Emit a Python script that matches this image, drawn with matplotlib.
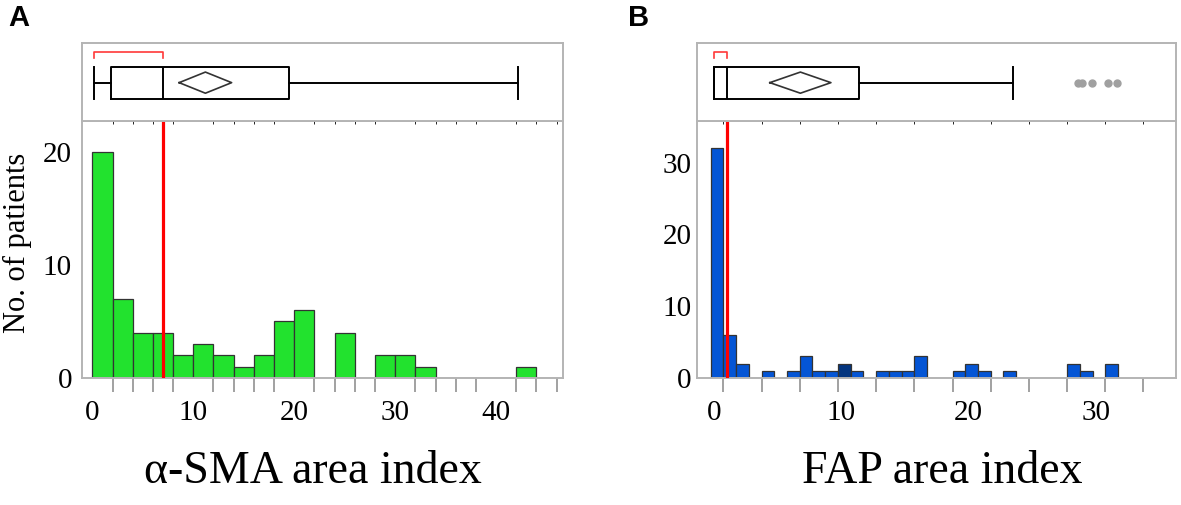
import matplotlib
matplotlib.use('Agg')
import matplotlib.pyplot as plt
import numpy as np

# Panel A: alpha-SMA area index histogram (bin width 2, starting at 0)
a_bin_start = 0
a_bin_width = 2
a_counts = [20, 7, 4, 4, 2, 3, 2, 1, 2, 5, 6, 0, 4, 0, 2, 2, 1, 0, 0, 0, 0, 1, 0]
a_box = {'whislo': 0.15, 'q1': 1.85, 'med': 7.0, 'q3': 19.5, 'whishi': 42.2, 'fliers': []}
a_mean = 11.2
a_mean_ci = (8.6, 13.8)
a_shortest_half = (0.15, 7.0)
a_xticklabels = [0, 10, 20, 30, 40]
a_yticklabels = [0, 10, 20]

# Panel B: FAP area index histogram (bin width 1)
b_bin_start = -0.25
b_bin_width = 1
b_counts = [32, 6, 2, 0, 1, 0, 1, 3, 1, 1, 2, 1, 0, 1, 1, 1, 3, 0, 0, 1, 2, 1, 0, 1,
            0, 0, 0, 0, 2, 1, 0, 2]
b_highlight_bin = 10
b_box = {'whislo': 0.0, 'q1': 0.0, 'med': 1.05, 'q3': 11.4, 'whishi': 23.5,
         'fliers': [28.6, 28.9, 29.7, 31.0, 31.7]}
b_mean = 6.8
b_mean_ci = (4.4, 9.2)
b_shortest_half = (0.0, 1.05)
b_xticklabels = [0, 10, 20, 30]
b_yticklabels = [0, 10, 20, 30]

GREEN = '#22e22e'
BLUE = '#0455d5'
DARK_BLUE = '#03357f'
FRAME = '#b4b4b4'
SERIF = 'Liberation Serif'


def style_frame(ax):
    for s in ax.spines.values():
        s.set_color(FRAME)
        s.set_linewidth(1.4)


def draw_panel(fig, rect_hist, rect_box, start, width, counts, colors, box, mean, ci,
               half, xlim, ylim, xlabels, ylabels, minor_ticks, ypad):
    ax = fig.add_axes(rect_hist)
    edges = start + width * np.arange(len(counts) + 1)
    ax.bar(edges[:-1], counts, width=width, align='edge', color=colors,
           edgecolor='#333333', linewidth=0.9)
    ax.axvline(box['med'], color='#ff0000', lw=2.3, zorder=5)
    ax.set_xlim(*xlim)
    ax.set_ylim(0, ylim)
    ax.set_xticks(xlabels)
    ax.set_xticklabels([str(v) for v in xlabels], fontfamily=SERIF, fontsize=21)
    ax.set_xticks(minor_ticks, minor=True)
    ax.tick_params(axis='x', which='major', length=0, pad=16)
    ax.tick_params(axis='x', which='minor', length=10, width=1.3, color='#9a9a9a')
    ax.set_yticks(ylabels)
    ax.set_yticklabels([str(v) for v in ylabels], fontfamily=SERIF, fontsize=21)
    ax.tick_params(axis='y', length=0, pad=ypad)
    style_frame(ax)

    bx = fig.add_axes(rect_box, sharex=ax)
    bx.set_ylim(0, 1)
    bx.bxp([dict(box)], positions=[0.49], widths=0.41, capwidths=0.41,
           orientation='horizontal', showfliers=True,
           boxprops=dict(color='black', lw=1.4),
           whiskerprops=dict(color='black', lw=1.4),
           capprops=dict(color='black', lw=1.4),
           medianprops=dict(color='black', lw=1.4),
           flierprops=dict(marker='o', markersize=5, markerfacecolor='#a0a0a0',
                           markeredgecolor='#a0a0a0'))
    bx.plot([ci[0], mean, ci[1], mean, ci[0]], [0.49, 0.625, 0.49, 0.355, 0.49],
            color='#333333', lw=1.2)
    bx.plot([half[0], half[0], half[1], half[1]], [0.81, 0.885, 0.885, 0.81],
            color='#ff3838', lw=1.2)
    bx.set_xlim(*xlim)
    bx.tick_params(left=False, bottom=False, labelleft=False, labelbottom=False)
    style_frame(bx)
    return ax


fig = plt.figure(figsize=(11.81, 5.05), dpi=100)

a_colors = [GREEN] * len(a_counts)
a_minor = np.arange(0, 47, 2)
draw_panel(fig, [0.0692, 0.2515, 0.4073, 0.5089], [0.0692, 0.7604, 0.4073, 0.155],
           a_bin_start, a_bin_width, a_counts, a_colors, a_box, a_mean, a_mean_ci,
           a_shortest_half, (-1.05, 46.6), 22.7, a_xticklabels, a_yticklabels,
           a_minor, 7)

b_colors = [BLUE] * len(b_counts)
b_colors[b_highlight_bin] = DARK_BLUE
b_minor = np.arange(0.75, 34, 3)
draw_panel(fig, [0.5904, 0.2515, 0.4053, 0.5089], [0.5904, 0.7604, 0.4053, 0.155],
           b_bin_start, b_bin_width, b_counts, b_colors, b_box, b_mean, b_mean_ci,
           b_shortest_half, (-1.3, 36.3), 35.8, b_xticklabels, b_yticklabels,
           b_minor, 4)

fig.text(0.265, 0.044, 'α-SMA area index', fontfamily=SERIF, fontsize=33,
         ha='center', va='baseline')
fig.text(0.7976, 0.044, 'FAP area index', fontfamily=SERIF, fontsize=33,
         ha='center', va='baseline')
fig.text(0.0145, 0.52, 'No. of patients', fontfamily=SERIF, fontsize=22,
         rotation=90, ha='center', va='center')
fig.text(0.007, 0.948, 'A', fontfamily='Liberation Sans', fontweight='bold',
         fontsize=21, ha='left', va='baseline')
fig.text(0.532, 0.948, 'B', fontfamily='Liberation Sans', fontweight='bold',
         fontsize=21, ha='left', va='baseline')

fig.savefig('out.png', dpi=100)
